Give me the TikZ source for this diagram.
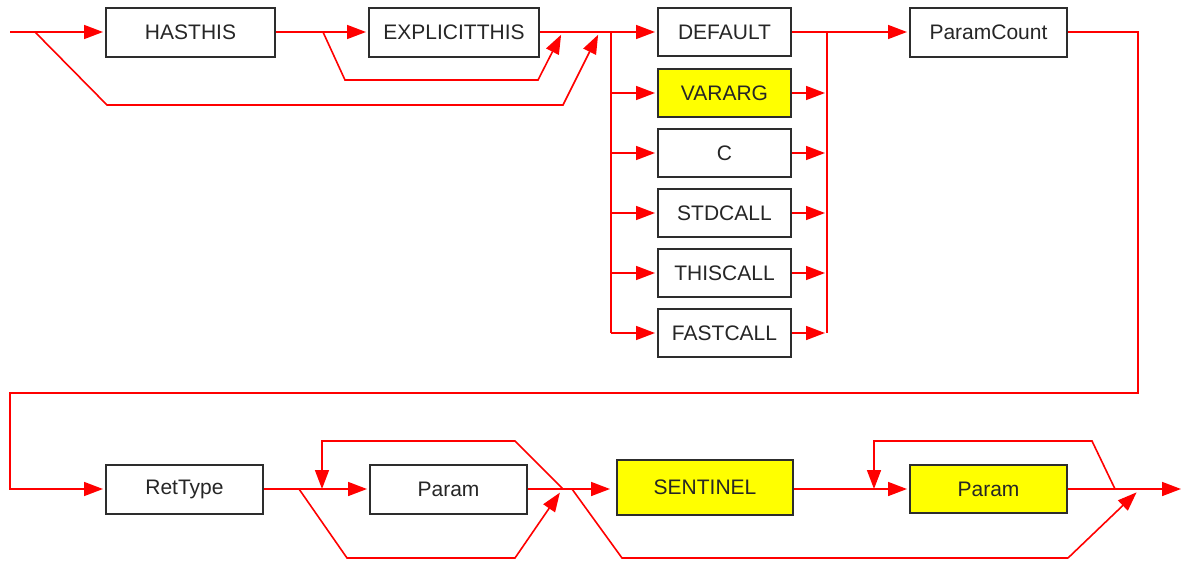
\documentclass[tikz,border=0pt]{standalone}
\usepackage{fontspec}
\setmainfont{Liberation Sans}
\usetikzlibrary{arrows.meta}
\definecolor{wred}{RGB}{255,0,0}
\definecolor{bord}{RGB}{45,45,45}
\definecolor{hlyel}{RGB}{255,255,0}
\begin{document}
\begin{tikzpicture}[x=1pt,y=-1pt,
  box/.style={draw=bord, line width=2pt, fill=white, minimum height=49pt, inner sep=0pt,
    font=\fontsize{21}{25}\selectfont, text=black!85},
  hl/.style={fill=hlyel},
  wire/.style={draw=wred, line width=1.6pt, line join=miter},
  arr/.style={wire, -{Triangle[length=19pt,width=14pt]}, shorten >=2pt},
]
\useasboundingbox (0,0) rectangle (1181,562);

% ---- top row nodes
\node[box, minimum width=169pt] (hasthis) at (190.5,32) {HASTHIS};
\node[box, minimum width=170pt] (explicit) at (454,32) {EXPLICITTHIS};
\node[box, minimum width=133pt, minimum height=48pt] (default) at (724.5,32) {DEFAULT};
\node[box, hl, minimum width=133pt, minimum height=48pt] (vararg) at (724.5,93) {VARARG};
\node[box, minimum width=133pt, minimum height=48pt] (c) at (724.5,153) {C};
\node[box, minimum width=133pt, minimum height=48pt] (stdcall) at (724.5,213) {STDCALL};
\node[box, minimum width=133pt, minimum height=48pt] (thiscall) at (724.5,273) {THISCALL};
\node[box, minimum width=133pt, minimum height=48pt] (fastcall) at (724.5,333) {FASTCALL};
\node[box, minimum width=157pt] (paramcount) at (988.5,32) {ParamCount};

% ---- bottom row nodes
\node[box, minimum width=157pt] (rettype) at (184.5,489) {RetType};
\node[box, minimum width=157pt] (param) at (448.5,489) {Param};
\node[box, hl, minimum width=176pt, minimum height=55pt] (sentinel) at (705,487) {SENTINEL};
\node[box, hl, minimum width=157pt, minimum height=48pt] (paramb) at (988.5,489) {Param};

% ---- coordinates
\coordinate (in) at (10,32);
\coordinate (s1) at (35,32);
\coordinate (s2) at (323,32);
\coordinate (t1) at (562,33);
\coordinate (t2) at (599,33);
\coordinate (ja) at (611,32);
\coordinate (jb) at (827,32);
\coordinate (r1) at (299,489);
\coordinate (r2) at (322,489);
\coordinate (r3) at (563,489);
\coordinate (r4) at (572,489);
\coordinate (r5) at (874,489);
\coordinate (r6) at (1115,489);
\coordinate (out) at (1181,489);

% ---- top row connectors
\draw[arr] (in) -- (hasthis.west);
\draw[arr] (s1) -- (107,105) -- (563,105) -- (t2);
\draw[arr] (hasthis.east) -- (explicit.west);
\draw[arr] (s2) -- (345,80) -- (538,80) -- (t1);
\draw[arr] (explicit.east) -- (default.west);
\draw[wire] (ja) -- (ja |- fastcall.west);
\foreach \n in {vararg,c,stdcall,thiscall,fastcall}{
  \draw[arr] (ja |- \n.west) -- (\n.west);
  \draw[arr] (\n.east) -- (jb |- \n.east);
}
\draw[wire] (jb) -- (jb |- fastcall.east);
\draw[arr] (default.east) -- (paramcount.west);

% ---- link to bottom row
\draw[arr] (paramcount.east) -- (1138,32) -- (1138,393) -- (10,393) -- (10,489) -- (rettype.west);

% ---- bottom row connectors
\draw[arr] (rettype.east) -- (param.west);
\draw[arr] (r1) -- (347,558) -- (515,558) -- (561,491);
\draw[arr, shorten >=0pt] (r3) -- (515,441) -- (322,441) -- (r2);
\draw[arr, shorten >=6pt] (param.east) -- (sentinel.west |- r3);
\draw[wire] (r4) -- (622,558) -- (1068,558);
\draw[arr] (1068,558) -- (1138,491);
\draw[arr] (sentinel.east |- r5) -- (paramb.west);
\draw[arr, shorten >=0pt] (r6) -- (1092,441) -- (874,441) -- (r5);
\draw[arr, shorten >=0pt] (paramb.east) -- (out);
\end{tikzpicture}
\end{document}
